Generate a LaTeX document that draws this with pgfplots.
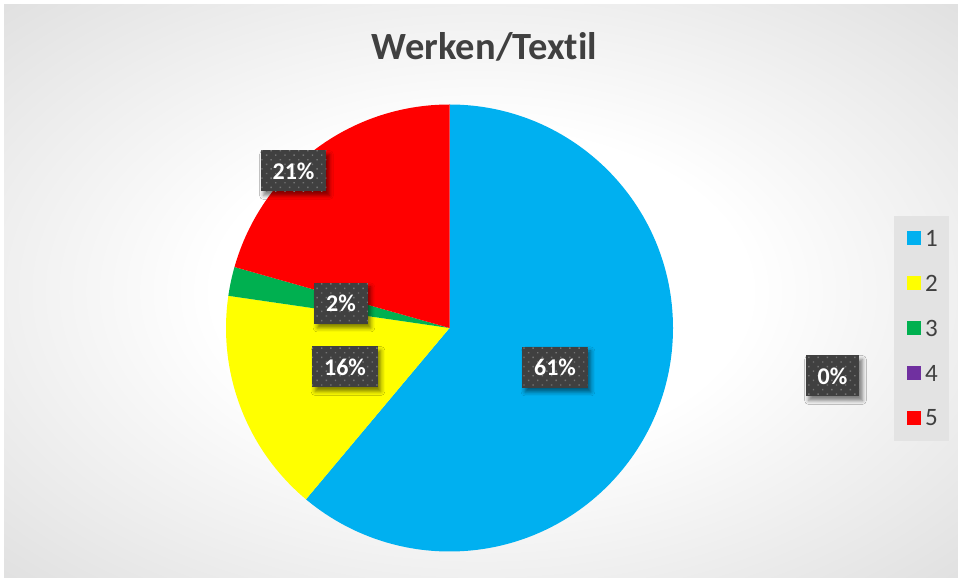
\documentclass[border=0pt]{standalone}
\usepackage{pgfplots}
\pgfplotsset{compat=1.18}
\usepackage{pgfplotstable}
\usepackage{fontspec}
\setmainfont{Carlito}[Ligatures={NoCommon,NoContextual}]
\usetikzlibrary{shadows.blur,patterns.meta}

\definecolor{c1}{HTML}{00B0F0}
\definecolor{c2}{HTML}{FFFF00}
\definecolor{c3}{HTML}{00B050}
\definecolor{c4}{HTML}{7030A0}
\definecolor{c5}{HTML}{FF0000}
\definecolor{txt}{HTML}{404040}
\definecolor{lbl}{HTML}{404040}

\pgfdeclareradialshading{chartbg}{\pgfpoint{0bp}{0bp}}{%
  color(0bp)=(white); color(14bp)=(white); color(50bp)=(black!20); color(72bp)=(black!24)}

% share in percent, label centre in pixel coordinates (y up)
\pgfplotstableread{
id val  lx    ly    col
1  61.1 555   210.5 c1
2  16.2 345   211   c2
3  2.1  341   274.5 c3
4  0.0  832.5 202   c4
5  20.6 293.5 407   c5
}\piedata

\begin{document}
\begin{tikzpicture}
\begin{axis}[
  width=958bp, height=578bp, scale only axis,
  xmin=0, xmax=958, ymin=0, ymax=578,
  axis lines=none, ticks=none, clip=false,
]
\pgfplotsextra{
  % background
  \fill[white] (axis cs:0,0) rectangle (axis cs:958,578);
  \shade[shading=chartbg] (axis cs:4,0) rectangle (axis cs:958,573);
  % title
  \node[text=txt, font=\fontsize{38.5bp}{44bp}\selectfont\bfseries, anchor=base]
    at (axis cs:484.5,518) {Werken/Text\kern0pt il};
  % slices, clockwise from 12 o'clock
  \pgfplotstablegetrowsof{\piedata}
  \pgfmathtruncatemacro\nrows{\pgfplotsretval-1}
  \gdef\startang{90}
  \foreach \r in {0,...,\nrows}{
    \pgfplotstablegetelem{\r}{val}\of\piedata
    \pgfmathsetmacro\sv{\pgfplotsretval}
    \pgfplotstablegetelem{\r}{col}\of\piedata
    \edef\sc{\pgfplotsretval}
    \pgfmathsetmacro\endang{\startang-3.6*\sv}
    \ifdim\sv pt>0pt
      \fill[\sc] (axis cs:449.5,250) -- ++(\startang:223.5bp)
        arc[start angle=\startang, end angle=\endang, radius=223.5bp] -- cycle;
    \fi
    \global\let\startang\endang
  }
  % data labels
  \foreach \r in {0,...,\nrows}{
    \pgfplotstablegetelem{\r}{val}\of\piedata
    \pgfmathsetmacro\sv{\pgfplotsretval}
    \pgfplotstablegetelem{\r}{lx}\of\piedata
    \edef\lx{\pgfplotsretval}
    \pgfplotstablegetelem{\r}{ly}\of\piedata
    \edef\ly{\pgfplotsretval}
    \node[fill=lbl, text=white, font=\fontsize{24bp}{28bp}\selectfont\bfseries,
      inner xsep=12bp, inner ysep=0pt, minimum height=41bp,
      blur shadow={shadow xshift=3bp, shadow yshift=-4bp, shadow blur radius=4bp, shadow opacity=50},
      postaction={pattern={Dots[radius=1bp, distance=6.5bp, angle=45]}, pattern color=black!55}]
      at (axis cs:\lx,\ly) {\pgfmathprintnumber[fixed,precision=0,assume math mode=true]{\sv}\%};
  }
  % legend
  \fill[black!11] (axis cs:894,137) rectangle (axis cs:949,362);
  \foreach \r in {0,...,\nrows}{
    \pgfplotstablegetelem{\r}{id}\of\piedata
    \edef\sid{\pgfplotsretval}
    \pgfplotstablegetelem{\r}{col}\of\piedata
    \edef\sc{\pgfplotsretval}
    \pgfmathsetmacro\ly{578-238-45*\r}
    \fill[\sc] (axis cs:907,\ly-7) rectangle (axis cs:921,\ly+7);
    \node[text=txt, font=\fontsize{25bp}{30bp}\selectfont, anchor=west, inner sep=0pt]
      at (axis cs:925,\ly) {\sid};
  }
}
\end{axis}
\end{tikzpicture}
\end{document}
